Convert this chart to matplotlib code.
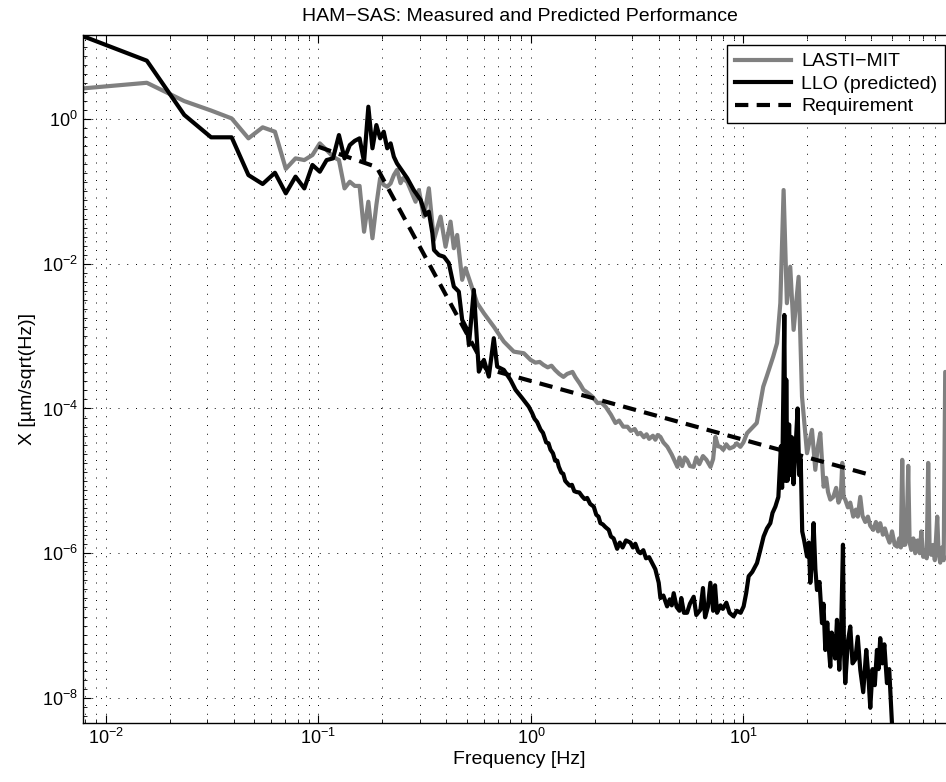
import matplotlib
matplotlib.use("Agg")
import matplotlib.pyplot as plt
from matplotlib.ticker import FixedLocator, LogLocator, NullFormatter

plt.rcParams['font.family'] = ['Liberation Sans', 'DejaVu Sans']
plt.rcParams['mathtext.default'] = 'regular'

# LASTI-MIT measured spectrum (Hz, um/sqrt(Hz))
lasti_freq = [0.0078, 0.0156, 0.0234, 0.0313, 0.0391, 0.0469, 0.0547, 0.0625, 0.0703, 0.0781,
              0.0859, 0.0938, 0.1016, 0.1094, 0.1172, 0.125, 0.1328, 0.1406, 0.1484, 0.1563,
              0.1641, 0.1719, 0.1797, 0.1875, 0.1953, 0.2031, 0.2109, 0.2188, 0.2266, 0.2344,
              0.2437, 0.250, 0.262, 0.2867, 0.2972, 0.3137, 0.3311, 0.3496, 0.3758, 0.3967,
              0.4188, 0.434, 0.450, 0.475, 0.4926, 0.520, 0.559, 0.601, 0.669, 0.746,
              0.831, 0.926, 0.996, 1.05, 1.10, 1.146, 1.20, 1.25, 1.30, 1.36,
              1.423, 1.48, 1.569, 1.62, 1.70, 1.767, 1.85, 1.95, 2.056, 2.15,
              2.25, 2.38, 2.499, 2.60, 2.72, 2.846, 2.95, 3.08, 3.18, 3.275,
              3.40, 3.50, 3.60, 3.75, 3.85, 3.95, 4.068, 4.20, 4.388, 4.60,
              4.89, 5.0, 5.15, 5.30, 5.43, 5.60, 5.83, 6.0, 6.2, 6.45,
              6.7, 7.0, 7.2, 7.38, 7.6, 7.8, 8.04, 8.3, 8.6, 8.99,
              9.3, 9.67, 10.0, 10.4, 11.55, 12.39, 12.86, 13.8, 14.39, 14.91,
              15.45, 16.01, 16.60, 17.22, 18.18, 18.86, 19.91, 21.01, 21.78, 22.4,
              22.99, 23.83, 24.5, 25.0, 25.62, 26.47, 27.3, 28.0, 28.7, 29.17,
              29.6, 30.13, 31.0, 31.8, 32.86, 33.8, 34.5, 35.45, 36.3, 37.42,
              38.5, 39.5, 40.8, 42.0, 43.0, 44.0, 45.3, 46.3, 47.48, 48.7,
              50.0, 51.5, 52.9, 54.0, 55.0, 55.85, 56.7, 57.7, 58.6, 59.6,
              60.5, 61.6, 63.0, 64.3, 66.0, 67.5, 68.7, 70.1, 71.5, 72.8,
              74.0, 75.2, 76.5, 78.0, 79.5, 81.6, 82.8, 84.3, 85.8, 87.5,
              88.97, 92.0]
lasti_x = [2.65, 3.17, 1.77, 1.31, 1.02, 0.541, 0.768, 0.668, 0.205, 0.286,
           0.271, 0.318, 0.461, 0.373, 0.301, 0.271, 0.110, 0.136, 0.119, 0.119,
           0.0277, 0.072, 0.0225, 0.065, 0.152, 0.123, 0.116, 0.129, 0.168, 0.198,
           0.130, 0.152, 0.135, 0.072, 0.1045, 0.0448, 0.1104, 0.0213, 0.0448, 0.0172,
           0.0382, 0.0164, 0.025, 0.0060, 0.0087, 0.0054, 0.00285, 0.00207, 0.00135, 8.4e-4,
           6.1e-4, 5.8e-4, 4.7e-4, 4.3e-4, 4.4e-4, 4.0e-4, 3.7e-4, 3.9e-4, 3.4e-4, 3.0e-4,
           2.73e-4, 3.0e-4, 3.2e-4, 2.7e-4, 2.2e-4, 1.81e-4, 1.65e-4, 1.45e-4, 1.19e-4, 1.2e-4,
           1.05e-4, 8.2e-5, 6.3e-5, 6.8e-5, 5.6e-5, 5.6e-5, 4.9e-5, 5.2e-5, 4.4e-5, 4.6e-5,
           4.0e-5, 4.4e-5, 3.8e-5, 4.2e-5, 3.7e-5, 4.3e-5, 4.05e-5, 3.4e-5, 2.95e-5, 2.3e-5,
           1.56e-5, 2.1e-5, 1.6e-5, 2.1e-5, 1.95e-5, 1.6e-5, 1.56e-5, 2.1e-5, 1.7e-5, 2.2e-5,
           1.95e-5, 1.56e-5, 2.0e-5, 4.05e-5, 3.0e-5, 2.95e-5, 2.68e-5, 3.2e-5, 2.8e-5, 2.95e-5,
           3.3e-5, 2.95e-5, 3.4e-5, 4.56e-5, 6.3e-5, 2.0e-4, 2.76e-4, 5.2e-4, 8.0e-4, 2.85e-3,
           0.1045, 2.85e-3, 9.1e-3, 1.22e-3, 6.6e-3, 1.46e-4, 2.41e-5, 5.06e-5, 1.42e-5, 3.0e-5,
           4.56e-5, 8.3e-6, 1.1e-5, 7.0e-6, 5.5e-6, 6.0e-6, 8.0e-6, 5.0e-6, 6.0e-6, 1.77e-5,
           6.0e-6, 5.5e-6, 4.3e-6, 5.0e-6, 3.2e-6, 4.0e-6, 3.2e-6, 6.0e-6, 3.3e-6, 2.7e-6,
           3.2e-6, 2.4e-6, 2.1e-6, 2.7e-6, 2.0e-6, 2.6e-6, 1.8e-6, 2.2e-6, 1.7e-6, 1.4e-6,
           2.0e-6, 1.3e-6, 1.23e-6, 1.6e-6, 1.2e-6, 1.95e-5, 1.3e-6, 1.31e-6, 2.0e-6, 1.61e-5,
           1.4e-6, 1.11e-6, 1.6e-6, 1.0e-6, 1.5e-6, 1.0e-6, 2.0e-6, 8.9e-7, 1.1e-6, 8.5e-7,
           1.77e-5, 1.0e-6, 9.5e-7, 1.3e-6, 8.0e-7, 3.2e-6, 1.0e-6, 7.4e-7, 1.2e-6, 8.0e-7,
           3.2e-4, 3.0e-4]

# LLO predicted spectrum
llo_freq = [0.0078, 0.0156, 0.0234, 0.0313, 0.0391, 0.0469, 0.0547, 0.0625, 0.0703, 0.0781,
            0.0859, 0.0938, 0.1016, 0.1094, 0.1172, 0.125, 0.1328, 0.1406, 0.1484, 0.1563,
            0.1641, 0.1719, 0.1797, 0.1875, 0.1953, 0.2031, 0.2109, 0.2188, 0.2266, 0.2344,
            0.250, 0.262, 0.281, 0.303, 0.3195, 0.331, 0.344, 0.350, 0.369, 0.390,
            0.411, 0.434, 0.458, 0.475, 0.502, 0.511, 0.539, 0.559, 0.569, 0.601,
            0.634, 0.669, 0.694, 0.746, 0.802, 0.847, 0.910, 0.977, 1.014, 1.04,
            1.07, 1.11, 1.14, 1.18, 1.21, 1.236, 1.27, 1.30, 1.33, 1.353,
            1.39, 1.42, 1.45, 1.482, 1.52, 1.56, 1.60, 1.64, 1.69, 1.743,
            1.79, 1.84, 1.90, 1.976, 2.03, 2.08, 2.124, 2.18, 2.24, 2.324,
            2.38, 2.45, 2.545, 2.62, 2.70, 2.80, 2.94, 3.02, 3.10, 3.20,
            3.275, 3.38, 3.48, 3.60, 3.718, 3.85, 3.994, 4.068, 4.20, 4.373,
            4.50, 4.60, 4.697, 4.85, 5.0, 5.1, 5.25, 5.43, 5.6, 5.834,
            6.0, 6.272, 6.45, 6.6, 6.8, 6.989, 7.2, 7.35, 7.513, 7.8,
            8.0, 8.31, 8.6, 8.99, 9.3, 9.7, 10.02, 10.3, 10.58, 11.0,
            11.58, 12.0, 12.44, 12.9, 13.38, 13.7, 14.13, 14.6, 15.0, 15.2,
            15.4, 15.57, 15.75, 15.9, 16.1, 16.4, 16.6, 16.9, 17.2, 17.6,
            17.98, 18.3, 18.6, 18.9, 19.3, 19.91, 20.3, 20.63, 21.0, 21.38,
            21.8, 22.18, 22.8, 23.42, 23.8, 24.27, 24.8, 25.2, 25.62, 26.0,
            26.47, 27.0, 27.54, 28.24, 28.8, 29.39, 29.7, 30.13, 31.0, 31.81,
            32.6, 33.58, 34.5, 35.45, 36.6, 37.83, 38.7, 39.51, 40.5, 41.5,
            42.47, 43.2, 44.01, 45.0, 46.0, 47.33, 48.5, 49.96]
llo_x = [14.0, 6.4, 1.14, 0.559, 0.559, 0.168, 0.1265, 0.181, 0.094, 0.160,
         0.110, 0.232, 0.187, 0.271, 0.286, 0.601, 0.286, 0.437, 0.50, 0.541,
         0.257, 1.48, 0.394, 0.826, 0.541, 0.668, 0.394, 0.461, 0.301, 0.244,
         0.185, 0.152, 0.1045, 0.076, 0.0472, 0.0524, 0.0264, 0.0155, 0.0132, 0.0125,
         0.0102, 0.00483, 0.00412, 0.00168, 0.00122, 7.56e-4, 0.00435, 7.56e-4, 3.23e-4, 4.69e-4,
         2.76e-4, 9.35e-4, 3.79e-4, 3.41e-4, 2.48e-4, 1.81e-4, 1.39e-4, 1.06e-4, 8.6e-5, 7.2e-5,
         6.5e-5, 5.1e-5, 4.6e-5, 3.4e-5, 3.3e-5, 2.7e-5, 2.4e-5, 1.9e-5, 1.9e-5, 1.57e-5,
         1.3e-5, 1.25e-5, 1.0e-5, 9.3e-6, 8.6e-6, 8.8e-6, 7.2e-6, 7.0e-6, 6.9e-6, 6.1e-6,
         5.6e-6, 5.8e-6, 4.8e-6, 4.4e-6, 3.4e-6, 3.2e-6, 2.6e-6, 2.5e-6, 2.3e-6, 2.1e-6,
         1.7e-6, 1.6e-6, 1.15e-6, 1.4e-6, 1.2e-6, 1.5e-6, 1.4e-6, 1.2e-6, 1.35e-6, 1.05e-6,
         1.0e-6, 1.1e-6, 8.5e-7, 8.8e-7, 7.3e-7, 6.0e-7, 3.9e-7, 2.4e-7, 2.6e-7, 1.84e-7,
         2.3e-7, 1.9e-7, 2.8e-7, 1.8e-7, 1.6e-7, 2.4e-7, 1.5e-7, 1.5e-7, 2.0e-7, 2.5e-7,
         1.4e-7, 1.65e-7, 3.3e-7, 1.3e-7, 1.8e-7, 3.9e-7, 1.6e-7, 3.6e-7, 1.5e-7, 1.9e-7,
         1.7e-7, 2.07e-7, 1.5e-7, 1.34e-7, 1.6e-7, 1.5e-7, 1.84e-7, 2.8e-7, 4.8e-7, 5.5e-7,
         7.3e-7, 1.1e-6, 1.7e-6, 2.2e-6, 2.6e-6, 3.6e-6, 4.4e-6, 6e-6, 3e-5, 8e-6,
         1.8e-4, 1.96e-3, 1e-5, 2.5e-4, 1.0e-5, 6e-5, 1.2e-5, 4e-5, 9e-6, 3e-5,
         1.0e-4, 1.2e-5, 2e-5, 2e-6, 1.5e-6, 9.0e-7, 1.4e-6, 3.9e-7, 8e-7, 2.6e-6,
         6e-7, 3.1e-7, 4e-7, 1.08e-7, 2e-7, 4.6e-8, 1.1e-7, 5e-8, 2.7e-8, 8e-8,
         6.4e-8, 3.5e-8, 1.2e-7, 2.45e-8, 8e-8, 1.31e-6, 5e-8, 1.6e-8, 6e-8, 9.7e-8,
         3e-8, 3.4e-8, 7e-8, 2.45e-8, 1.2e-8, 4.6e-8, 2e-8, 7.3e-9, 2.5e-8, 1.5e-8,
         4.6e-8, 2.5e-8, 6.7e-8, 3.0e-8, 5.5e-8, 1.6e-8, 2.5e-8, 4.5e-9]

# requirement curve
req_freq = [0.1, 0.188, 0.613, 39.5]
req_x = [0.414, 0.217, 3.57e-4, 1.21e-5]

assert len(lasti_freq) == len(lasti_x)
assert len(llo_freq) == len(llo_x)

fig = plt.figure(figsize=(9.46, 7.82), dpi=100)
ax = fig.add_axes([83 / 946, 59 / 782, 873 / 946, 688 / 782])

ax.loglog(lasti_freq, lasti_x, color='#808080', lw=3, label='LASTI\u2212MIT')
ax.loglog(llo_freq, llo_x, color='k', lw=3, label='LLO (predicted)')
ax.loglog(req_freq, req_x, color='k', lw=3, linestyle=(0, (3.2, 2.0)), label='Requirement')

ax.set_xlim(1 / 128, 100)
ax.set_ylim(4.5e-9, 14.5)

ax.yaxis.set_major_locator(FixedLocator([1e-8, 1e-6, 1e-4, 1e-2, 1e0]))
ax.yaxis.set_minor_locator(FixedLocator([10 ** (k / 8) for k in range(-72, 12)]))
ax.yaxis.set_minor_formatter(NullFormatter())
ax.xaxis.set_major_locator(FixedLocator([1e-2, 1e-1, 1e0, 1e1]))
ax.xaxis.set_minor_locator(LogLocator(base=10, subs=range(2, 10), numticks=20))
ax.xaxis.set_minor_formatter(NullFormatter())

dots = (0, (1, 8))
ax.grid(True, which='major', axis='both', color='k', lw=0.7, linestyle=dots)
ax.grid(True, which='minor', axis='x', color='k', lw=0.7, linestyle=dots)
ax.tick_params(which='both', direction='in', top=True, right=True, labelsize=13)
ax.tick_params(which='major', length=6, width=0.8)
ax.tick_params(which='minor', length=3, width=0.6)
for s in ax.spines.values():
    s.set_linewidth(1.0)

ax.set_xlabel('Frequency [Hz]', fontsize=14, labelpad=2)
ax.set_ylabel('X [\u00b5m/sqrt(Hz)]', fontsize=14)
ax.set_title('HAM\u2212SAS: Measured and Predicted Performance', fontsize=14, pad=10)

leg = ax.legend(loc='upper right', bbox_to_anchor=(0.9874, 0.9855), borderaxespad=0,
                fontsize=14, fancybox=False, framealpha=1, edgecolor='k',
                handlelength=2.9, handletextpad=0.5, labelspacing=0.25, borderpad=0.4)
leg.get_frame().set_linewidth(1.0)

fig.savefig('out.png', dpi=100)
